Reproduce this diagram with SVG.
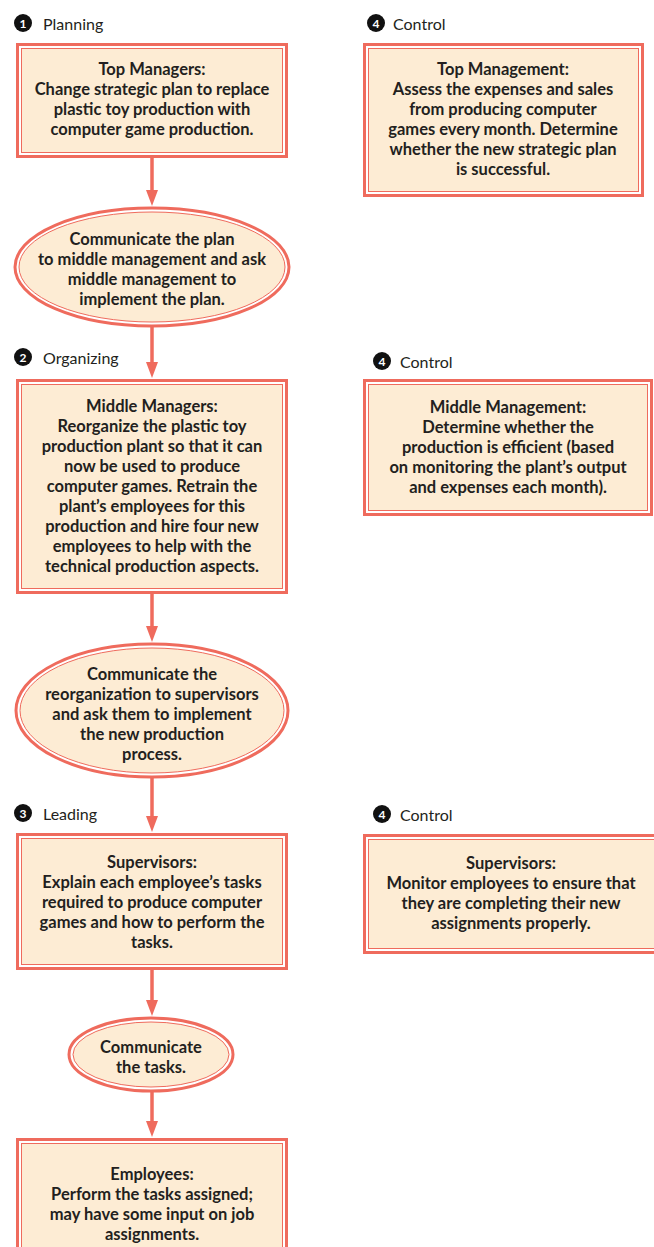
<svg xmlns="http://www.w3.org/2000/svg" width="654" height="1247" viewBox="0 0 654 1247">
  <defs>
    <marker id="ah" viewBox="0 0 16 12" refX="8" refY="6" markerWidth="16" markerHeight="12" orient="auto" markerUnits="userSpaceOnUse">
      <path d="M0,0 L16,6 L0,12 z" fill="#ef6b5d"/>
    </marker>
  </defs>
  <style>
    .outer { fill: #ffffff; stroke: #ef6b5d; stroke-width: 3; }
    .inner { fill: #fdecd4; stroke: #ef6b5d; stroke-width: 1; }
    .body { font-family: Lato, "Liberation Sans", sans-serif; font-weight: bold; font-size: 16.5px; fill: #231f20; text-anchor: middle; }
    .step { font-family: Lato, "Liberation Sans", sans-serif; font-size: 16px; fill: #231f20; }
    .num { font-family: Lato, "Liberation Sans", sans-serif; font-weight: bold; font-size: 12px; fill: #ffffff; text-anchor: middle; }
    .dot { fill: #111111; }
    .conn { stroke: #ef6b5d; stroke-width: 3.5; fill: none; marker-end: url(#ah); }
  </style>

  <rect width="654" height="1247" fill="#ffffff"/>

  <!-- step headings -->
  <g id="label-planning">
    <circle class="dot" cx="23" cy="23" r="9"/>
    <text class="num" x="23" y="27.5">1</text>
    <text class="step" x="43" y="30">Planning</text>
  </g>
  <g id="label-control-1">
    <circle class="dot" cx="376" cy="23" r="9"/>
    <text class="num" x="376" y="27.5">4</text>
    <text class="step" x="393" y="30">Control</text>
  </g>
  <g id="label-organizing">
    <circle class="dot" cx="23" cy="357" r="9"/>
    <text class="num" x="23" y="361.5">2</text>
    <text class="step" x="43" y="364">Organizing</text>
  </g>
  <g id="label-control-2">
    <circle class="dot" cx="382" cy="361" r="9"/>
    <text class="num" x="382" y="365.5">4</text>
    <text class="step" x="400" y="368">Control</text>
  </g>
  <g id="label-leading">
    <circle class="dot" cx="23" cy="813" r="9"/>
    <text class="num" x="23" y="817.5">3</text>
    <text class="step" x="43" y="820">Leading</text>
  </g>
  <g id="label-control-3">
    <circle class="dot" cx="382" cy="814" r="9"/>
    <text class="num" x="382" y="818.5">4</text>
    <text class="step" x="400" y="821">Control</text>
  </g>

  <!-- connectors -->
  <g id="connectors">
    <line class="conn" x1="152" y1="158" x2="152" y2="198"/>
    <line class="conn" x1="152" y1="327" x2="152" y2="370"/>
    <line class="conn" x1="152" y1="594" x2="152" y2="634"/>
    <line class="conn" x1="152" y1="778" x2="152" y2="824"/>
    <line class="conn" x1="152" y1="970" x2="152" y2="1008"/>
    <line class="conn" x1="152" y1="1092" x2="152" y2="1129"/>
  </g>

  <!-- left column -->
  <g id="top-managers">
    <rect class="outer" x="17.5" y="44.5" width="269" height="112"/>
    <rect class="inner" x="21.5" y="48.5" width="261" height="104"/>
    <text class="body" x="152" y="75">Top Managers:</text>
    <text class="body" x="152" y="95">Change strategic plan to replace</text>
    <text class="body" x="152" y="115">plastic toy production with</text>
    <text class="body" x="152" y="135">computer game production.</text>
  </g>

  <g id="communicate-plan">
    <ellipse class="outer" cx="152" cy="267" rx="137" ry="59"/>
    <ellipse class="inner" cx="152" cy="267" rx="133" ry="55"/>
    <text class="body" x="152" y="245">Communicate the plan</text>
    <text class="body" x="152" y="265">to middle management and ask</text>
    <text class="body" x="152" y="285">middle management to</text>
    <text class="body" x="152" y="305">implement the plan.</text>
  </g>

  <g id="middle-managers">
    <rect class="outer" x="17.5" y="380.5" width="269" height="212"/>
    <rect class="inner" x="21.5" y="384.5" width="261" height="204"/>
    <text class="body" x="152" y="412">Middle Managers:</text>
    <text class="body" x="152" y="432">Reorganize the plastic toy</text>
    <text class="body" x="152" y="452">production plant so that it can</text>
    <text class="body" x="152" y="472">now be used to produce</text>
    <text class="body" x="152" y="492">computer games. Retrain the</text>
    <text class="body" x="152" y="512">plant’s employees for this</text>
    <text class="body" x="152" y="532">production and hire four new</text>
    <text class="body" x="152" y="552">employees to help with the</text>
    <text class="body" x="152" y="572">technical production aspects.</text>
  </g>

  <g id="communicate-reorganization">
    <ellipse class="outer" cx="152" cy="710.5" rx="136" ry="66.5"/>
    <ellipse class="inner" cx="152" cy="710.5" rx="132" ry="62.5"/>
    <text class="body" x="152" y="680">Communicate the</text>
    <text class="body" x="152" y="700">reorganization to supervisors</text>
    <text class="body" x="152" y="720">and ask them to implement</text>
    <text class="body" x="152" y="740">the new production</text>
    <text class="body" x="152" y="760">process.</text>
  </g>

  <g id="supervisors-lead">
    <rect class="outer" x="17.5" y="834.5" width="269" height="134"/>
    <rect class="inner" x="21.5" y="838.5" width="261" height="126"/>
    <text class="body" x="152" y="868">Supervisors:</text>
    <text class="body" x="152" y="888">Explain each employee’s tasks</text>
    <text class="body" x="152" y="908">required to produce computer</text>
    <text class="body" x="152" y="928">games and how to perform the</text>
    <text class="body" x="152" y="948">tasks.</text>
  </g>

  <g id="communicate-tasks">
    <ellipse class="outer" cx="151" cy="1054.5" rx="82" ry="36.5"/>
    <ellipse class="inner" cx="151" cy="1054.5" rx="78" ry="32.5"/>
    <text class="body" x="151" y="1053">Communicate</text>
    <text class="body" x="151" y="1073">the tasks.</text>
  </g>

  <g id="employees">
    <rect class="outer" x="17.5" y="1139.5" width="269" height="130"/>
    <rect class="inner" x="21.5" y="1143.5" width="261" height="122"/>
    <text class="body" x="152" y="1180">Employees:</text>
    <text class="body" x="152" y="1200">Perform the tasks assigned;</text>
    <text class="body" x="152" y="1220">may have some input on job</text>
    <text class="body" x="152" y="1240">assignments.</text>
  </g>

  <!-- right column: control -->
  <g id="top-management-control">
    <rect class="outer" x="364.5" y="44.5" width="278" height="151"/>
    <rect class="inner" x="368.5" y="48.5" width="270" height="143"/>
    <text class="body" x="503" y="75">Top Management:</text>
    <text class="body" x="503" y="95">Assess the expenses and sales</text>
    <text class="body" x="503" y="115">from producing computer</text>
    <text class="body" x="503" y="135">games every month. Determine</text>
    <text class="body" x="503" y="155">whether the new strategic plan</text>
    <text class="body" x="503" y="175">is successful.</text>
  </g>

  <g id="middle-management-control">
    <rect class="outer" x="364.5" y="380.5" width="287" height="134"/>
    <rect class="inner" x="368.5" y="384.5" width="279" height="126"/>
    <text class="body" x="508" y="413">Middle Management:</text>
    <text class="body" x="508" y="433">Determine whether the</text>
    <text class="body" x="508" y="453">production is efficient (based</text>
    <text class="body" x="508" y="473">on monitoring the plant’s output</text>
    <text class="body" x="508" y="493">and expenses each month).</text>
  </g>

  <g id="supervisors-control">
    <rect class="outer" x="364.5" y="835.5" width="296" height="117"/>
    <rect class="inner" x="368.5" y="839.5" width="288" height="109"/>
    <text class="body" x="511" y="869">Supervisors:</text>
    <text class="body" x="511" y="889">Monitor employees to ensure that</text>
    <text class="body" x="511" y="909">they are completing their new</text>
    <text class="body" x="511" y="929">assignments properly.</text>
  </g>
</svg>
